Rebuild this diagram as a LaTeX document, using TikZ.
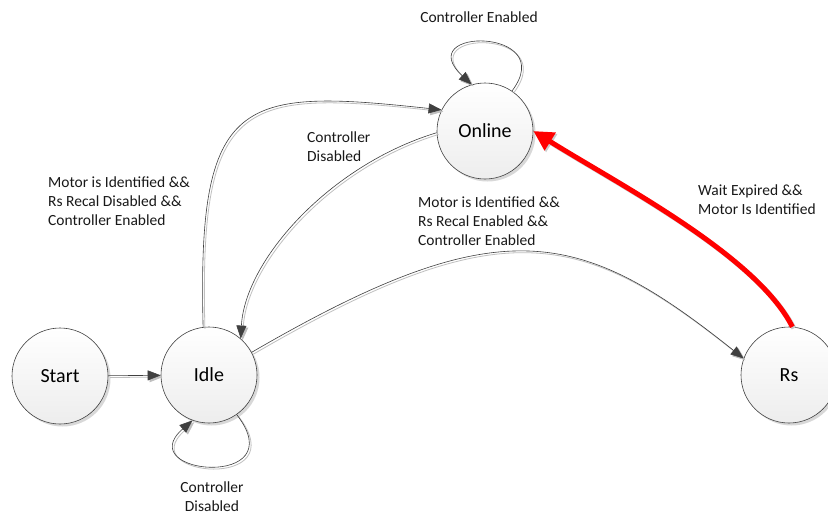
\documentclass[tikz,border=0pt]{standalone}
\usepackage{fontspec}
\setmainfont{Carlito}
\usetikzlibrary{arrows.meta,shadows}
\definecolor{edgec}{HTML}{404040}
\begin{document}
\begin{tikzpicture}[x=1pt,y=-1pt,
  state/.style={circle, draw=edgec, line width=0.6pt, minimum size=96pt, inner sep=0pt,
    top color=white, bottom color=gray!14, font=\fontsize{20}{24}\selectfont,
    drop shadow={shadow xshift=2.5pt, shadow yshift=-2.5pt, fill=gray!60, opacity=0.5}},
  lbl/.style={inner sep=0pt, font=\fontsize{15.5}{18.7}\selectfont, text=black!90},
  trans/.style={draw=edgec, line width=0.6pt, -{Triangle[length=13pt,width=10pt]},
    preaction={draw=gray!50, line width=0.8pt, transform canvas={shift={(1.8pt,-1.8pt)}}}},
  redtrans/.style={draw=red, line width=5pt, -{Triangle[length=20pt,width=20pt]},
    preaction={draw=gray!40, line width=5pt, transform canvas={shift={(1.5pt,-1.5pt)}}}}
]
\fill[white] (0,0) rectangle (828,515);
\useasboundingbox (0,0) rectangle (828,515);

\node[state] (start) at (60,376) {Start};
\node[state] (idle) at (209,375) {Idle};
\node[state] (online) at (485,131) {Online};
\node[state] (rs) at (789,375) {Rs};

\draw[trans] (start) -- (idle);
\draw[trans] (idle.97) .. controls (197,95) and (240,88) .. (online.154);
\draw[trans] (online.182) .. controls (330,165) and (245,260) .. (idle.49);
\draw[trans] (idle.28) .. controls (500,208) and (579,227) .. (rs.160);
\draw[redtrans] (rs.86) .. controls (756,255) and (618,184) .. (online.0);
\draw[trans] (online.56) .. controls (560,27) and (410,27) .. (online.106);
\draw[trans] (idle.305) .. controls (295,490) and (130,475) .. (idle.250);

\node[lbl] (l1) at (479,17) {Controller Enabled};
\node[lbl, anchor=west, align=left] (l2) at (307,147) {Controller\\Disabled};
\node[lbl, anchor=west, align=left] (l3) at (48,201) {Motor is Identified \&\&\\Rs Recal Disabled \&\&\\Controller Enabled};
\node[lbl, anchor=west, align=left] (l4) at (418,221) {Motor is Identified \&\&\\Rs Recal Enabled \&\&\\Controller Enabled};
\node[lbl, anchor=west, align=left] (l5) at (698,200) {Wait Expired \&\&\\Motor Is Identified};
\node[lbl, align=center] (l6) at (212,497) {Controller\\Disabled};
\end{tikzpicture}
\end{document}
